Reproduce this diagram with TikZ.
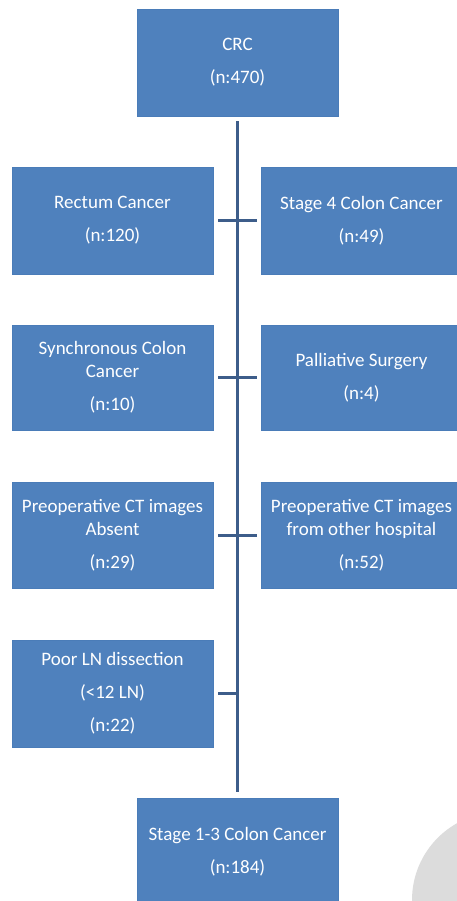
\documentclass[tikz,border=0pt]{standalone}
\usepackage{fontspec}
\setmainfont{Carlito}
\definecolor{boxblue}{HTML}{4F81BD}
\definecolor{boxedge}{HTML}{4A7CB8}
\definecolor{linecol}{HTML}{3D5D8A}
\definecolor{ghost}{HTML}{DCDCDC}
\begin{document}
\begin{tikzpicture}[x=1pt,y=-1pt,
  box/.style={rectangle, fill=boxblue, draw=boxedge, line width=0.6pt,
    minimum width=201pt, minimum height=107pt, inner sep=0pt,
    text=white, align=center, font=\fontsize{19}{23}\selectfont},
  conn/.style={draw=linecol, line width=3pt}]
\useasboundingbox (0,0) rectangle (457,901);
\clip (0,0) rectangle (457,901);
\fill[ghost] (500,900) circle (88);
\node[box] (crc) at (237.5,62.5) {CRC\\[10pt](n:470)};
\node[box] (rect) at (112.5,220.5) {Rectum Cancer\\[10pt](n:120)};
\node[box] (st4) at (361.5,220.5) {Stage 4 Colon Cancer\\[10pt](n:49)};
\node[box, minimum height=105pt] (sync) at (112.5,377.5) {Synchronous Colon\\Cancer\\[10pt](n:10)};
\node[box, minimum height=105pt] (pall) at (361.5,377.5) {Palliative Surgery\\[10pt](n:4)};
\node[box, minimum height=106pt] (ctabs) at (112.5,535) {Preoperative CT images\\Absent\\[10pt](n:29)};
\node[box, minimum height=106pt] (ctoth) at (361.5,535) {Preoperative CT images\\from other hospital\\[10pt](n:52)};
\node[box] (poor) at (112.5,693.5) {Poor LN dissection\\[10pt](<12 LN)\\[10pt](n:22)};
\node[box] (final) at (237.5,851.5) {Stage 1-3 Colon Cancer\\[10pt](n:184)};
\coordinate (join) at (237.5,693.5);
\draw[conn, shorten <=5pt, shorten >=6pt] (crc.south) -- (final.north);
\draw[conn, shorten <=5pt, shorten >=4pt] (rect.east) -- (st4.west);
\draw[conn, shorten <=5pt, shorten >=4pt] (sync.east) -- (pall.west);
\draw[conn, shorten <=5pt, shorten >=4pt] (ctabs.east) -- (ctoth.west);
\draw[conn, shorten <=5pt] (poor.east) -- (join);
\end{tikzpicture}
\end{document}
